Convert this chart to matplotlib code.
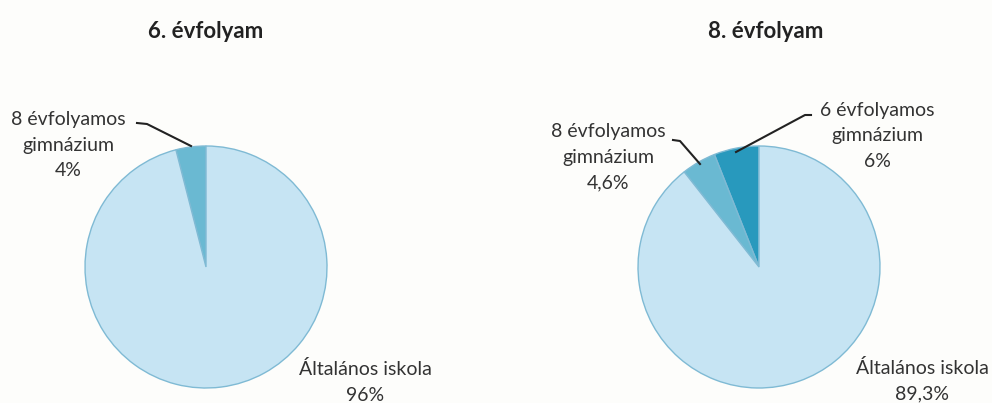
import matplotlib.pyplot as plt

# data
titles = ['6. évfolyam', '8. évfolyam']
labels_6 = ['8 évfolyamos\ngimnázium', 'Általános iskola']
values_6 = [4, 96]
pct_6 = ['4%', '96%']
labels_8 = ['6 évfolyamos\ngimnázium', '8 évfolyamos\ngimnázium', 'Általános iskola']
values_8 = [6, 4.6, 89.3]
pct_8 = ['6%', '4,6%', '89,3%']

colors_6 = ['#6ab9d2', '#c6e4f3']
colors_8 = ['#2899bd', '#6ab9d2', '#c6e4f3']

plt.rcParams['font.family'] = ['Lato', 'DejaVu Sans']
W, H = 992, 403
fig = plt.figure(figsize=(W / 100, H / 100), dpi=100, facecolor='#fdfdfb')
ax = fig.add_axes([0, 0, 1, 1])

R = 121
c1 = (206, H - 267)
c2 = (759, H - 267)
wp = dict(edgecolor='#7fbad4', linewidth=1)

ax.pie(values_6, center=c1, radius=R, startangle=90, counterclock=True,
       colors=colors_6, wedgeprops=wp, frame=True)
ax.pie(values_8, center=c2, radius=R, startangle=90, counterclock=True,
       colors=colors_8, wedgeprops=wp, frame=True)
ax.set_xlim(0, W)
ax.set_ylim(0, H)
ax.set_aspect('equal')
ax.axis('off')

def Y(y):
    return H - y

fs = 14
ls = 1.6
tc = '#333333'
# titles
ax.text(206, Y(32), titles[0], ha='center', va='center', fontsize=16, fontweight='bold', color='#222222')
ax.text(766, Y(32), titles[1], ha='center', va='center', fontsize=16, fontweight='bold', color='#222222')

# labels, pie 1
ax.text(68, Y(145), labels_6[0] + '\n' + pct_6[0], ha='center', va='center', fontsize=fs, color=tc, linespacing=ls)
ax.text(365, Y(382), labels_6[1] + '\n' + pct_6[1], ha='center', va='center', fontsize=fs, color=tc, linespacing=ls)
ax.plot([137, 147, 191], [Y(123), Y(124), Y(146)], color='#222222', lw=1.5)

# labels, pie 2
ax.text(608, Y(157), labels_8[1] + '\n' + pct_8[1], ha='center', va='center', fontsize=fs, color=tc, linespacing=ls)
ax.text(877, Y(136), labels_8[0] + '\n' + pct_8[0], ha='center', va='center', fontsize=fs, color=tc, linespacing=ls)
ax.text(922, Y(381), labels_8[2] + '\n' + pct_8[2], ha='center', va='center', fontsize=fs, color=tc, linespacing=ls)
ax.plot([673, 680, 700], [Y(140), Y(141), Y(164)], color='#222222', lw=1.5)
ax.plot([811, 805, 736], [Y(115), Y(115), Y(152)], color='#222222', lw=1.5)

fig.savefig('out.png', dpi=100, facecolor=fig.get_facecolor())
